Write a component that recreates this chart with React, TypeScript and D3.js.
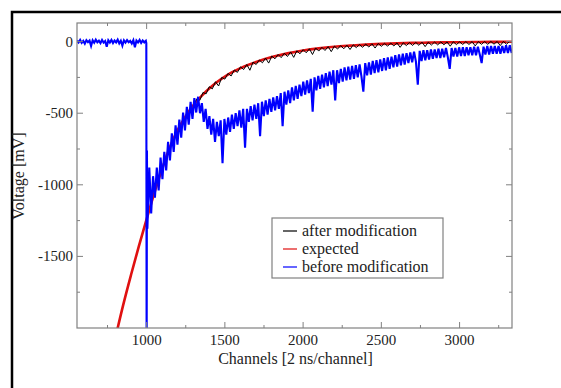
import * as d3 from 'd3'

const W = 561, H = 388
const M = { top: 23, right: 49, bottom: 60, left: 77 }

// x ticks / y ticks
const X_TICKS = [1000, 1500, 2000, 2500, 3000]
const X_MINOR = [750, 1250, 1750, 2250, 2750, 3250]
const Y_TICKS = [0, -500, -1000, -1500]
const Y_MINOR = [-250, -750, -1250, -1750]

// before modification (blue): flat baseline, the drop, then the noisy recovery
const blueFlatStart = 555, blueFlatStep = 10
const blueFlat = [
  8, -6, 12, -9, 5, -14, 10, -4, 7, -30, 9, -8, 13, -5, 6, -11, 11, -7, 4, -36, 10, -6,
  12, -10, 8, -5, 14, -12, 6, -28, 9, -7, 11, -4, 5, -13, 10, -40, 7, -6, 12, -9, 8, -5, 6,
]
const blueDropCh = [998, 1000, 1002, 1004]
const blueDrop = [-10, -2300, -760, -1300]
const blueTailStart = 1005, blueTailStep = 12
const blueTail = [
  -1300, -880, -1200, -940, -1090, -880, -1040, -810, -960, -770, -900, -700, -830, -640, -770, -585,
  -720, -545, -670, -495, -620, -455, -580, -420, -540, -395, -495, -385, -500, -430, -560, -470,
  -610, -520, -650, -540, -700, -560, -660, -550, -850, -540, -650, -530, -630, -510, -610, -500,
  -590, -480, -600, -470, -740, -470, -560, -450, -550, -440, -540, -430, -660, -420, -520, -410,
  -510, -400, -490, -390, -480, -380, -470, -360, -590, -350, -440, -340, -430, -320, -410, -310,
  -400, -300, -380, -280, -370, -270, -360, -260, -490, -250, -340, -240, -330, -230, -320, -220,
  -310, -210, -300, -200, -410, -200, -290, -190, -280, -180, -270, -175, -265, -170, -260, -165,
  -250, -160, -245, -350, -150, -235, -145, -230, -135, -220, -130, -215, -125, -205, -115, -200,
  -110, -190, -105, -180, -95, -175, -90, -165, -85, -160, -80, -150, -75, -145, -70, -140,
  -300, -65, -135, -60, -130, -60, -125, -55, -120, -55, -115, -50, -115, -50, -110, -45,
  -110, -190, -45, -105, -45, -105, -40, -100, -40, -100, -40, -95, -40, -95, -35, -95,
  -35, -90, -150, -35, -90, -30, -90, -30, -85, -30, -85, -30, -85, -30, -80, -25,
  -80, -25, -80,
]

// expected (red)
const expCh = [800, 850, 900, 950, 1000, 1050, 1100, 1150, 1200, 1250, 1300, 1350, 1400, 1450, 1500, 1550, 1600, 1700, 1800, 1900, 2000, 2100, 2200, 2300, 2400, 2500, 2600, 2700, 2800, 2900, 3000, 3100, 3200, 3335]
const expV = [-2070, -1840, -1630, -1430, -1240, -1055, -885, -735, -615, -520, -443, -380, -327, -282, -244, -212, -185, -142, -108, -82, -62, -47, -36, -28, -21, -16, -12, -9, -7, -5, -4, -3, -2, -1]

// after modification (black)
const afterStart = 1300, afterStep = 20
const afterV = [
  -450, -400, -410, -355, -365, -315, -330, -280, -310, -250, -262, -222, -240, -198, -215, -176,
  -195, -160, -200, -143, -160, -128, -148, -115, -150, -101, -120, -90, -112, -81, -104, -72,
  -110, -64, -85, -56, -78, -50, -90, -44, -66, -40, -62, -35, -70, -31, -52, -28,
  -50, -25, -55, -22, -42, -20, -40, -17, -38, -15, -45, -13, -33, -12, -32, -10,
  -30, -9, -40, -8, -28, -6, -27, -5, -26, -4, -35, -4, -24, -3, -23, -2,
  -22, -2, -32, -1, -21, -1, -20, 0, -20, 0, -30, 0, -19, 1, -19, 1,
  -18, 1, -28, 1, -18, 1,
]

const LEGEND = [
  { label: 'after modification', color: '#000000' },
  { label: 'expected', color: '#e01010' },
  { label: 'before modification', color: '#0000ff' },
]

const FONT = "'Liberation Serif', 'Times New Roman', Times, serif"
const AXIS = '#808080'
const TXT = { fontFamily: FONT, fill: '#222' }

export default function App() {
  const x = d3.scaleLinear().domain([555, 3335]).range([M.left, W - M.right])
  const y = d3.scaleLinear().domain([-2000, 130]).range([H - M.bottom, M.top])

  const blue: [number, number][] = [
    ...blueFlat.map((v, i) => [blueFlatStart + i * blueFlatStep, v] as [number, number]),
    ...blueDrop.map((v, i) => [blueDropCh[i], v] as [number, number]),
    ...blueTail.map((v, i) => [blueTailStart + i * blueTailStep, v] as [number, number]),
  ]
  const black: [number, number][] = afterV.map((v, i) => [afterStart + i * afterStep, v])
  const red: [number, number][] = expV.map((v, i) => [expCh[i], v])

  const line = d3.line<[number, number]>().x(d => x(d[0])).y(d => y(d[1]))
  const smooth = d3.line<[number, number]>().x(d => x(d[0])).y(d => y(d[1])).curve(d3.curveMonotoneX)

  const x0 = M.left, x1 = W - M.right, y0 = M.top, y1 = H - M.bottom

  return (
    <svg width={W} height={H} style={{ position: 'absolute', left: 0, top: 0, background: '#fff' }}>
      <rect x={12} y={12} width={620} height={420} fill="none" stroke="#000" strokeWidth={2.5} />
      <defs>
        <clipPath id="plot"><rect x={x0} y={y0} width={x1 - x0} height={y1 - y0} /></clipPath>
      </defs>

      <g clipPath="url(#plot)">
        <path d={smooth(red) ?? ''} fill="none" stroke="#e01010" strokeWidth={2.6} />
        <path d={line(black) ?? ''} fill="none" stroke="#000" strokeWidth={1} />
        <path d={line(blue) ?? ''} fill="none" stroke="#0000ff" strokeWidth={2.1} />
      </g>

      {/* frame + ticks */}
      <rect x={x0} y={y0} width={x1 - x0} height={y1 - y0} fill="none" stroke={AXIS} strokeWidth={1.2} />
      {X_TICKS.map(t => (
        <g key={'xt' + t} stroke={AXIS} strokeWidth={1}>
          <line x1={x(t)} x2={x(t)} y1={y1} y2={y1 - 6} />
          <line x1={x(t)} x2={x(t)} y1={y0} y2={y0 + 6} />
        </g>
      ))}
      {X_MINOR.map(t => (
        <g key={'xm' + t} stroke={AXIS} strokeWidth={1}>
          <line x1={x(t)} x2={x(t)} y1={y1} y2={y1 - 3} />
          <line x1={x(t)} x2={x(t)} y1={y0} y2={y0 + 3} />
        </g>
      ))}
      {Y_TICKS.map(t => (
        <g key={'yt' + t} stroke={AXIS} strokeWidth={1}>
          <line x1={x0} x2={x0 + 6} y1={y(t)} y2={y(t)} />
          <line x1={x1} x2={x1 - 6} y1={y(t)} y2={y(t)} />
        </g>
      ))}
      {Y_MINOR.map(t => (
        <g key={'ym' + t} stroke={AXIS} strokeWidth={1}>
          <line x1={x0} x2={x0 + 3} y1={y(t)} y2={y(t)} />
          <line x1={x1} x2={x1 - 3} y1={y(t)} y2={y(t)} />
        </g>
      ))}

      {/* tick labels */}
      {X_TICKS.map(t => (
        <text key={'xl' + t} x={x(t)} y={y1 + 17} textAnchor="middle" fontSize={15} style={TXT}>{t}</text>
      ))}
      {Y_TICKS.map(t => (
        <text key={'yl' + t} x={x0 - 4} y={y(t) + 5} textAnchor="end" fontSize={15} style={TXT}>{t}</text>
      ))}

      <text x={(x0 + x1) / 2 + 1} y={364} textAnchor="middle" fontSize={16} style={TXT}>
        Channels [2 ns/channel]
      </text>
      <text transform={`translate(24, 176) rotate(-90)`} textAnchor="middle" fontSize={16} style={TXT}>
        Voltage [mV]
      </text>

      {/* legend */}
      <g>
        <rect x={272} y={218} width={171} height={60} fill="#fff" stroke={AXIS} strokeWidth={1.2} />
        {LEGEND.map((l, i) => (
          <g key={l.label}>
            <line x1={283} x2={297} y1={231 + i * 18} y2={231 + i * 18} stroke={l.color} strokeWidth={1.2} />
            <text x={302} y={236 + i * 18} fontSize={16} style={TXT}>{l.label}</text>
          </g>
        ))}
      </g>
    </svg>
  )
}
